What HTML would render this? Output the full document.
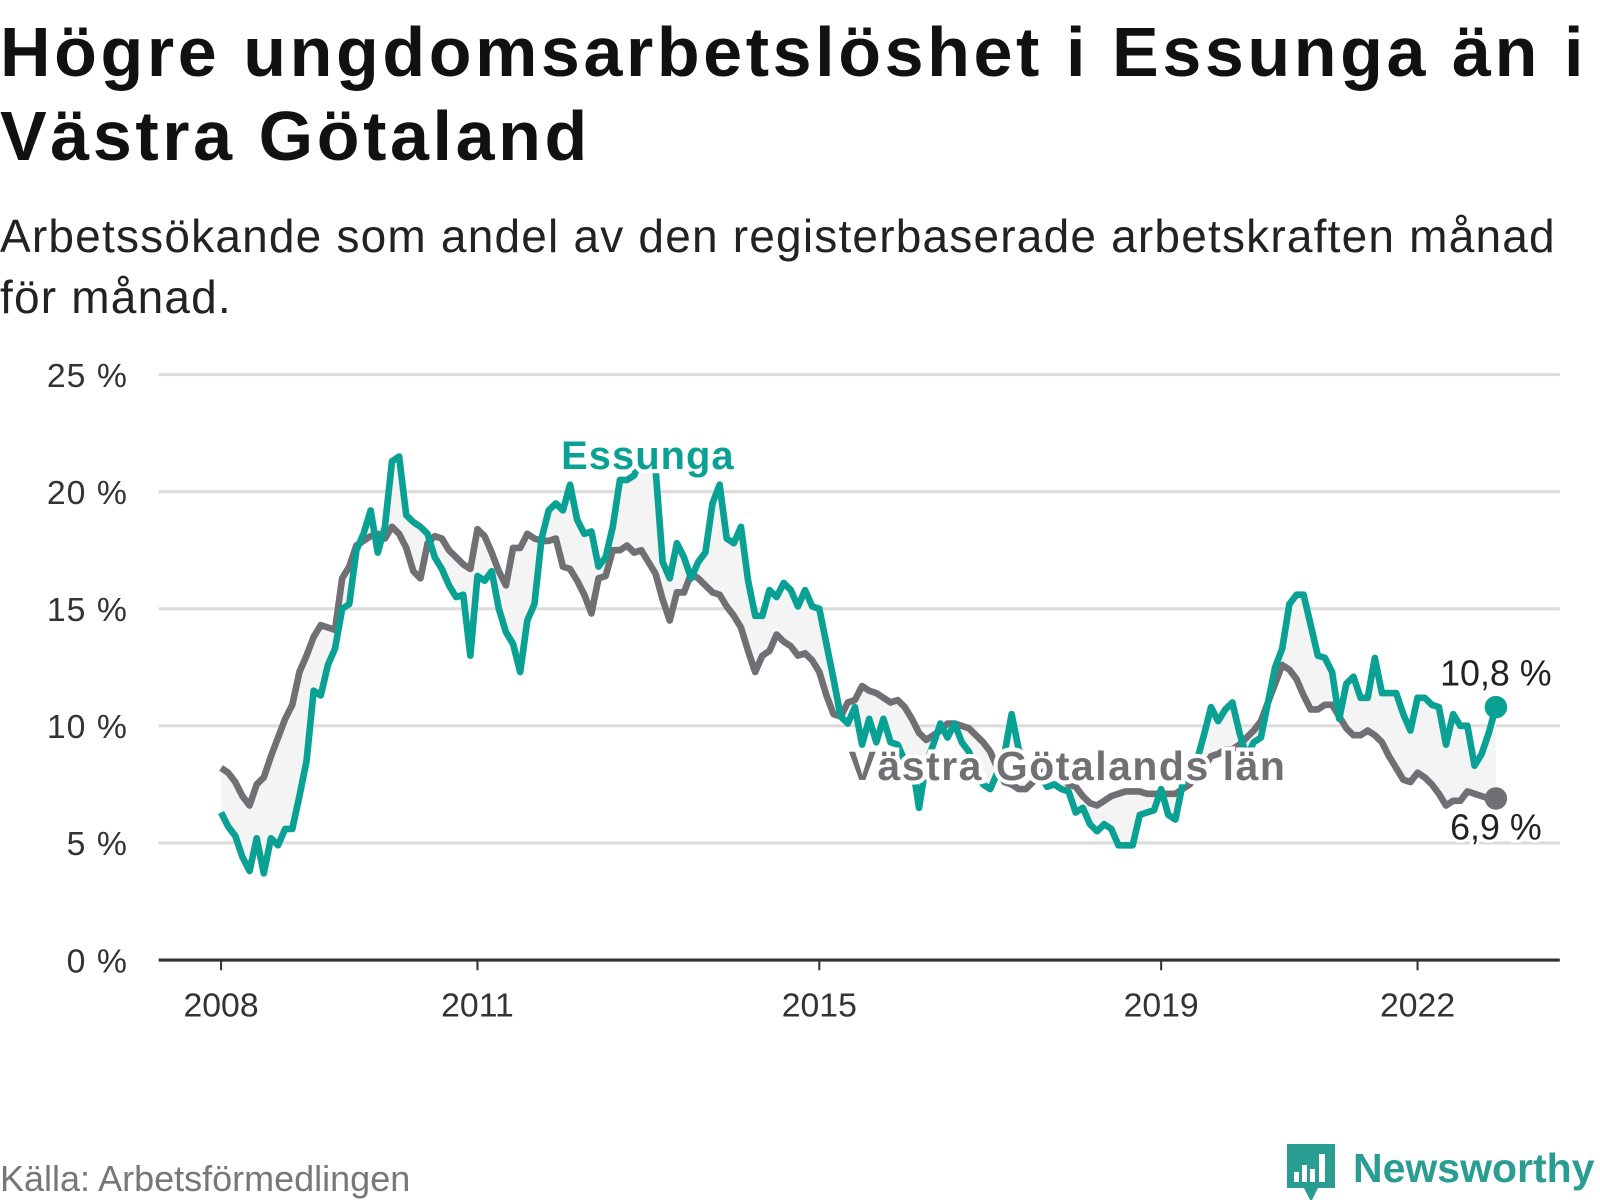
<!DOCTYPE html>
<html><head><meta charset="utf-8"><style>
body{margin:0;width:1600px;height:1200px;background:#fff;overflow:hidden;font-family:"Liberation Sans",sans-serif;color:#111}
#title{position:absolute;left:0;top:10px;font-size:70px;font-weight:bold;line-height:84px;margin:0;letter-spacing:3.6px;white-space:nowrap}
#subtitle{position:absolute;left:0;top:206px;font-size:46px;line-height:61px;margin:0;color:#222;letter-spacing:1.2px;white-space:nowrap}
svg{position:absolute;left:0;top:0}
</style></head><body>
<h1 id="title">Högre ungdomsarbetslöshet i Essunga än i<br>Västra Götaland</h1>
<p id="subtitle">Arbetssökande som andel av den registerbaserade arbetskraften månad<br>för månad.</p>
<svg id="chart" width="1600" height="1200"><g id="plot" transform="scale(1.0235)"></g></svg>
<script>
const yTicks=[0,5,10,15,20,25];
const xTickYears=[2008,2011,2015,2019,2022];
const startYear=2008;
const essunga=[
6.3,5.7,5.3,4.4,3.8,5.2,3.7,5.2,4.9,5.6,5.6,7.0,
8.5,11.5,11.3,12.6,13.3,15.0,15.2,17.5,18.2,19.2,17.4,18.5,
21.3,21.5,19.0,18.7,18.5,18.2,17.2,16.7,16.0,15.5,15.6,13.0,
16.4,16.2,16.6,15.0,14.0,13.5,12.3,14.5,15.2,18.0,19.2,19.5,
19.2,20.3,18.8,18.2,18.3,16.8,17.2,18.5,20.5,20.5,20.7,21.5,
21.5,21.0,17.0,16.3,17.8,17.2,16.3,17.0,17.4,19.5,20.3,18.0,
17.8,18.5,16.2,14.7,14.7,15.8,15.5,16.1,15.8,15.1,15.8,15.1,
15.0,13.5,12.0,10.4,10.1,10.8,9.2,10.3,9.3,10.3,9.3,9.2,
8.5,8.5,6.5,8.4,9.2,10.1,9.5,10.1,9.3,8.9,8.0,7.5,
7.3,8.0,8.8,10.5,9.0,8.5,8.0,7.9,7.4,7.5,7.3,7.2,
6.3,6.5,5.8,5.5,5.8,5.6,4.9,4.9,4.9,6.2,6.3,6.4,
7.3,6.2,6.0,7.5,7.8,8.5,9.6,10.8,10.2,10.7,11.0,9.7,
8.7,9.3,9.5,11.0,12.5,13.3,15.2,15.6,15.6,14.3,13.0,12.9,
12.3,10.3,11.8,12.1,11.2,11.2,12.9,11.4,11.4,11.4,10.5,9.8,
11.2,11.2,10.9,10.8,9.2,10.5,10.0,10.0,8.3,8.8,9.7,10.8];
const vgl=[
8.2,8.0,7.6,7.0,6.6,7.5,7.8,8.7,9.5,10.3,10.9,12.3,
13.0,13.8,14.3,14.2,14.1,16.3,16.8,17.7,17.9,18.1,18.2,18.0,
18.5,18.2,17.6,16.6,16.3,17.8,18.1,18.0,17.5,17.2,16.9,16.7,
18.4,18.1,17.4,16.6,16.0,17.6,17.6,18.2,18.0,17.9,17.9,18.0,
16.8,16.7,16.2,15.6,14.8,16.3,16.4,17.5,17.5,17.7,17.4,17.5,
17.0,16.5,15.4,14.5,15.7,15.7,16.5,16.3,16.0,15.7,15.6,15.1,
14.7,14.2,13.2,12.3,13.0,13.2,13.9,13.6,13.4,13.0,13.1,12.8,
12.3,11.3,10.5,10.4,11.0,11.1,11.7,11.5,11.4,11.2,11.0,11.1,
10.8,10.3,9.7,9.4,9.6,9.8,10.1,10.1,10.0,9.9,9.6,9.3,
8.9,8.2,7.6,7.5,7.3,7.3,7.6,7.9,8.2,8.0,7.8,7.5,
7.4,7.0,6.7,6.6,6.8,7.0,7.1,7.2,7.2,7.2,7.1,7.1,
7.1,7.1,7.1,7.3,7.5,7.8,8.2,8.7,8.8,9.0,9.0,9.2,
9.5,9.8,10.2,11.0,11.8,12.6,12.4,12.0,11.3,10.7,10.7,10.9,
10.9,10.4,9.9,9.6,9.6,9.8,9.6,9.3,8.7,8.2,7.7,7.6,
8.0,7.8,7.5,7.1,6.6,6.8,6.8,7.2,7.1,7.0,6.9,6.9];
const lastLabels=["10,8 %","6,9 %"];

const NS="http://www.w3.org/2000/svg";
const svg=document.getElementById('chart');
const plot=document.getElementById('plot');
const X0=216,PX_YEAR=83.5,Y0=938,PX_PCT=22.88;
const xm=i=>X0+i*PX_YEAR/12;
const xy=yr=>X0+(yr-startYear)*PX_YEAR;
const yv=v=>Y0-v*PX_PCT;
function mk(tag,attrs,parent){const e=document.createElementNS(NS,tag);for(const k in attrs)e.setAttribute(k,attrs[k]);(parent||plot).appendChild(e);return e;}

yTicks.forEach(t=>{
  if(t>0){const g=mk('line',{x1:155,x2:1524,y1:yv(t),y2:yv(t),stroke:'#dcdcdc','stroke-width':3});
  
  }
  const l=mk('text',{x:125,y:yv(t)+12,'text-anchor':'end','font-size':33,fill:'#333','letter-spacing':1});
  l.textContent=t+' %';
  
  
});
const ax=mk('line',{x1:155,x2:1524,y1:Y0,y2:Y0,stroke:'#333','stroke-width':3});


xTickYears.forEach(yr=>{
  const tk=mk('line',{x1:xy(yr),x2:xy(yr),y1:Y0,y2:Y0+10,stroke:'#333','stroke-width':2});
  
  
  const l=mk('text',{x:xy(yr),y:Y0+55,'text-anchor':'middle','font-size':33,fill:'#333'});
  l.textContent=yr;
  
  
});

let d='';
essunga.forEach((v,i)=>{d+=(i?'L':'M')+xm(i)+','+yv(v);});
for(let i=vgl.length-1;i>=0;i--)d+='L'+xm(i)+','+yv(vgl[i]);
const area=mk('path',{d:d+'Z',fill:'#f4f4f4'});



function line(arr,color,name){
  const p=mk('path',{d:arr.map((v,i)=>(i?'L':'M')+xm(i)+','+yv(v)).join(''),fill:'none',stroke:color,'stroke-width':6.5,'stroke-linejoin':'round'});
  
  
}
line(vgl,'#706f74','vastra-gotaland-line');
line(essunga,'#0aa195','essunga-line');

const n=essunga.length-1;
const d1=mk('circle',{cx:xm(n),cy:yv(essunga[n]),r:11,fill:'#0aa195'});


const d2=mk('circle',{cx:xm(n),cy:yv(vgl[n]),r:11,fill:'#706f74'});


const t1=mk('text',{x:xm(n),y:yv(essunga[n])-21,'text-anchor':'middle','font-size':35,fill:'#222',stroke:'#fff','stroke-width':6,'paint-order':'stroke'});
t1.textContent=lastLabels[0];


const t2=mk('text',{x:xm(n),y:yv(vgl[n])+40,'text-anchor':'middle','font-size':35,fill:'#222',stroke:'#fff','stroke-width':6,'paint-order':'stroke'});
t2.textContent=lastLabels[1];



const s1=mk('text',{x:633,y:458,'text-anchor':'middle','font-size':39,'font-weight':'bold',fill:'#0aa195',stroke:'#fff','stroke-width':8,'paint-order':'stroke','letter-spacing':1});
s1.textContent='Essunga';


const s2=mk('text',{x:1043,y:762,'text-anchor':'middle','font-size':40,'font-weight':'bold',fill:'#706f74',stroke:'#fff','stroke-width':8,'paint-order':'stroke','letter-spacing':1.5});
s2.textContent='Västra Götalands län';



const src=mk('text',{x:0,y:1191,'font-size':36,fill:'#777'},svg);
src.textContent='Källa: Arbetsförmedlingen';



const logo=mk('g',{transform:'translate(-8,0)'},svg);


mk('path',{d:'M1295 1144h48v44h-17l-7 14-7-14h-17z',fill:'#2a9d92'},logo);
[[1302,1172,5,10],[1310,1165,5,17],[1318,1169,5,13],[1327,1154,6,28]].forEach(r=>mk('rect',{x:r[0],y:r[1],width:r[2],height:r[3],fill:'#fff'},logo));
const lt=mk('text',{x:1361,y:1182,'font-size':41,'font-weight':'bold',fill:'#2a9d92'},logo);
lt.textContent='Newsworthy';
</script>
</body></html>
